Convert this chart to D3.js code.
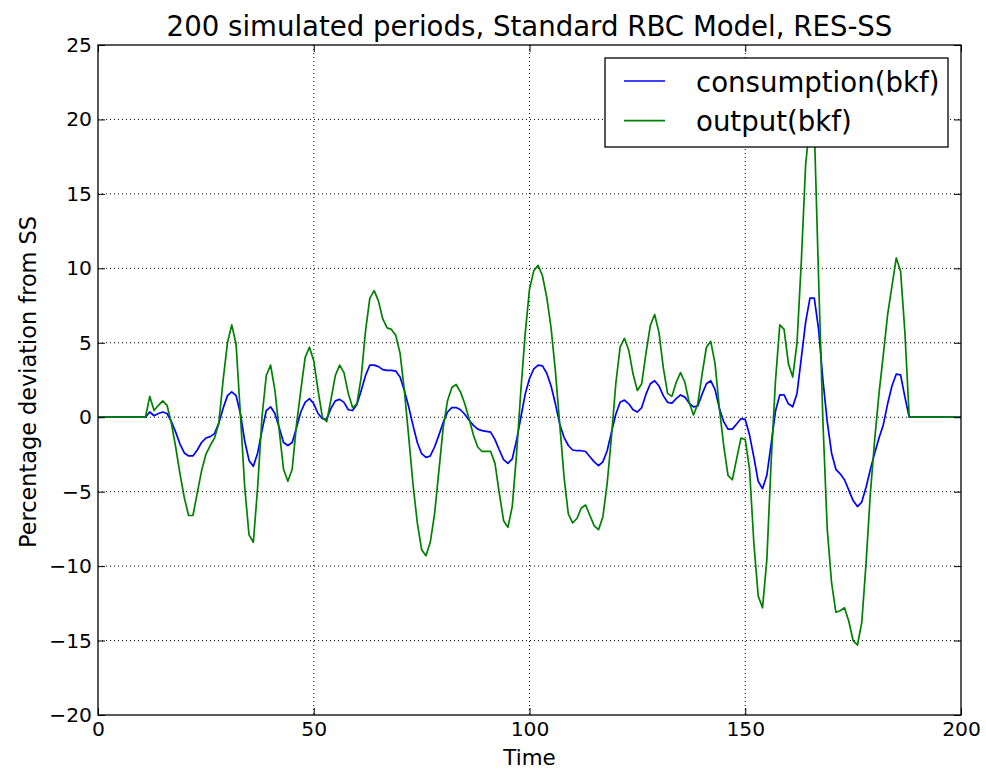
<!DOCTYPE html>
<html>
<head>
<meta charset="utf-8">
<script src="https://cdn.jsdelivr.net/npm/d3@7/dist/d3.min.js"></script>
<style>
  body { margin: 0; background: #fff; }
  text { font-family: "DejaVu Sans", sans-serif; fill: #000; }
</style>
</head>
<body>
<div id="chart"></div>
<script>
// simulated series (t = 0..200)
const consumption = [
  0, 0, 0, 0, 0, 0, 0, 0, 0, 0, 0, 0,
  0.35, 0.1, 0.25, 0.35, 0.25, -0.3, -1.0, -1.8, -2.4, -2.6,
  -2.6, -2.2, -1.7, -1.4, -1.3, -1.1, -0.4, 0.6, 1.45, 1.7,
  1.45, 0.25, -1.6, -2.9, -3.3, -2.4, -0.9, 0.45, 0.7, 0.25,
  -0.7, -1.7, -1.9, -1.7, -0.7, 0.35, 1.0, 1.25, 0.9, 0.25,
  -0.1, -0.15, 0.6, 1.1, 1.2, 1.0, 0.5, 0.45, 0.85, 1.8,
  2.8, 3.5, 3.5, 3.4, 3.2, 3.15, 3.15, 3.1, 2.7, 1.8,
  0.7, -0.55, -1.7, -2.45, -2.7, -2.6, -2.0, -1.2, -0.35, 0.35,
  0.65, 0.65, 0.5, 0.2, -0.2, -0.55, -0.8, -0.9, -0.95, -1.0,
  -1.5, -2.2, -2.85, -3.1, -2.8, -1.55, 0.0, 1.55, 2.6, 3.25,
  3.5, 3.45, 2.95, 2.1, 0.9, -0.45, -1.35, -1.9, -2.2, -2.25,
  -2.25, -2.3, -2.65, -3.0, -3.25, -3.0, -2.25, -1.0, 0.2, 1.0,
  1.15, 0.9, 0.5, 0.35, 0.65, 1.55, 2.25, 2.45, 2.1, 1.45,
  1.0, 0.95, 1.25, 1.5, 1.35, 0.95, 0.7, 0.75, 1.55, 2.25,
  2.45, 1.85, 0.6, -0.3, -0.8, -0.8, -0.45, -0.1, -0.15, -1.2,
  -2.7, -4.3, -4.8, -3.9, -1.8, 0.4, 1.5, 1.5, 0.9, 0.7,
  1.6, 4.0, 6.4, 8.0, 8.0, 5.9, 2.5, -0.3, -2.4, -3.5,
  -3.8, -4.2, -4.9, -5.6, -6.0, -5.7, -4.7, -3.5, -2.4, -1.4,
  -0.5, 0.9, 2.1, 2.9, 2.85, 1.35, 0, 0, 0, 0,
  0, 0, 0, 0, 0, 0, 0, 0, 0
];
const output = [
  0, 0, 0, 0, 0, 0, 0, 0, 0, 0, 0, 0,
  1.4, 0.45, 0.8, 1.1, 0.8, -0.4, -2.0, -3.8, -5.4, -6.6,
  -6.6, -5.1, -3.6, -2.5, -1.9, -1.4, -0.4, 2.5, 5.0, 6.2,
  4.9, 0.2, -4.7, -7.9, -8.4, -4.7, 0.0, 2.8, 3.5, 1.8,
  -0.9, -3.5, -4.3, -3.5, -0.5, 1.8, 4.0, 4.7, 3.8, 1.8,
  0.0, -0.3, 1.2, 2.8, 3.5, 3.0, 1.6, 0.65, 0.9, 2.7,
  5.8, 8.0, 8.5, 7.8, 6.6, 6.0, 5.9, 5.5, 4.3, 1.8,
  -1.3, -4.5, -7.1, -8.9, -9.3, -8.4, -6.5, -3.6, -0.7, 1.1,
  2.0, 2.2, 1.7, 0.9, -0.1, -1.2, -2.0, -2.3, -2.3, -2.3,
  -3.1, -5.1, -6.95, -7.4, -6.0, -2.5, 1.8, 5.6, 8.6, 9.85,
  10.2, 9.5, 8.05, 6.0, 3.1, -0.45, -4.0, -6.5, -7.1, -6.8,
  -6.1, -5.9, -6.6, -7.3, -7.55, -6.7, -4.45, -1.3, 2.25, 4.7,
  5.3, 4.5, 2.9, 1.8, 2.25, 4.3, 6.15, 6.9, 5.7, 3.35,
  1.6, 1.4, 2.35, 3.0, 2.35, 1.0, 0.15, 0.9, 2.9, 4.7,
  5.1, 3.6, 0.6, -1.9, -3.9, -4.2, -2.8, -1.4, -1.5, -3.5,
  -8.5, -12.0, -12.8, -9.6, -3.0, 2.4, 6.2, 5.9, 3.6, 2.7,
  5.0, 10.5, 17.0, 19.8, 19.5, 9.3, -0.3, -7.5, -11.1, -13.1,
  -13.0, -12.8, -13.7, -15.0, -15.3, -13.8, -9.8, -5.1, -1.5, 1.6,
  4.2, 6.9, 8.8, 10.7, 9.8, 5.7, 0, 0, 0, 0,
  0, 0, 0, 0, 0, 0, 0, 0, 0
];
const seriesNames = ["consumption(bkf)", "output(bkf)"];
const seriesColors = ["#0000ff", "#008000"];
const xTicks = [0, 50, 100, 150, 200];
const yTicks = [-20, -15, -10, -5, 0, 5, 10, 15, 20, 25];

const W = 986, H = 770;
const margin = {top: 45, right: 25, bottom: 55, left: 98};
const width = W - margin.left - margin.right,
      height = H - margin.top - margin.bottom;

const svg = d3.select("#chart").append("svg")
    .attr("width", W)
    .attr("height", H);

const g = svg.append("g")
    .attr("transform", `translate(${margin.left},${margin.top})`);

const x = d3.scaleLinear().domain([0, 200]).range([0, width]);
const y = d3.scaleLinear().domain([-20, 25]).range([height, 0]);

// clip for lines
svg.append("defs").append("clipPath").attr("id", "clip")
  .append("rect").attr("width", width).attr("height", height);

// grid
g.append("g").selectAll("line").data(xTicks.slice(1, -1)).join("line")
    .attr("x1", d => x(d)).attr("x2", d => x(d))
    .attr("y1", 0).attr("y2", height)
    .attr("stroke", "#000").attr("stroke-width", 1)
    .attr("stroke-dasharray", "1,3");
g.append("g").selectAll("line").data(yTicks.slice(1, -1)).join("line")
    .attr("y1", d => y(d)).attr("y2", d => y(d))
    .attr("x1", 0).attr("x2", width)
    .attr("stroke", "#000").attr("stroke-width", 1)
    .attr("stroke-dasharray", "1,3");

// lines
const line = d3.line().x((d, i) => x(i)).y(d => y(d));
const series = [consumption, output];
g.append("g").attr("clip-path", "url(#clip)")
  .selectAll("path").data(series).join("path")
    .attr("d", d => line(d))
    .attr("fill", "none")
    .attr("stroke", (d, i) => seriesColors[i])
    .attr("stroke-width", 1.7)
    .attr("stroke-linejoin", "round");

// axes (matplotlib classic: ticks inside on all sides)
const fmt = d => d < 0 ? "\u2212" + Math.abs(d) : String(d);
g.append("g")
    .attr("transform", `translate(0,${height})`)
    .call(d3.axisBottom(x).tickValues(xTicks).tickFormat(fmt).tickSizeInner(-7).tickSizeOuter(0).tickPadding(7));
g.append("g")
    .call(d3.axisLeft(y).tickValues(yTicks).tickFormat(fmt).tickSizeInner(-7).tickSizeOuter(0).tickPadding(6));
g.append("g")
    .call(d3.axisTop(x).tickValues(xTicks).tickFormat("").tickSizeInner(-7).tickSizeOuter(0));
g.append("g").attr("transform", `translate(${width},0)`)
    .call(d3.axisRight(y).tickValues(yTicks).tickFormat("").tickSizeInner(-7).tickSizeOuter(0));
g.selectAll(".domain").remove();
g.selectAll(".tick line").attr("stroke", "#000");
g.selectAll(".tick text").attr("font-size", 20.3).attr("font-family", "DejaVu Sans");

g.append("rect")
    .attr("width", width).attr("height", height)
    .attr("fill", "none").attr("stroke", "#000").attr("stroke-width", 1.3);

// title and labels
svg.append("text")
    .attr("x", margin.left + width / 2).attr("y", 36)
    .attr("text-anchor", "middle").attr("font-size", 27.6)
    .text("200 simulated periods, Standard RBC Model, RES-SS");
svg.append("text")
    .attr("x", margin.left + width / 2).attr("y", 765)
    .attr("text-anchor", "middle").attr("font-size", 21.4)
    .text("Time");
svg.append("text")
    .attr("transform", `translate(36,${margin.top + height / 2 + 2}) rotate(-90)`)
    .attr("text-anchor", "middle").attr("font-size", 22.4)
    .text("Percentage deviation from SS");

// legend
const leg = svg.append("g").attr("transform", "translate(605,58)");
leg.append("rect").attr("width", 343).attr("height", 89)
    .attr("fill", "#fff").attr("stroke", "#000").attr("stroke-width", 1.3);
const items = leg.selectAll("g.item").data(seriesNames).join("g")
    .attr("class", "item")
    .attr("transform", (d, i) => `translate(0,${23 + i * 39.7})`);
items.append("line").attr("x1", 19).attr("x2", 60)
    .attr("stroke", (d, i) => seriesColors[i]).attr("stroke-width", 1.7);
items.append("text").attr("x", 91).attr("y", 10.5)
    .attr("font-size", 27.6).text(d => d);
</script>
</body>
</html>
